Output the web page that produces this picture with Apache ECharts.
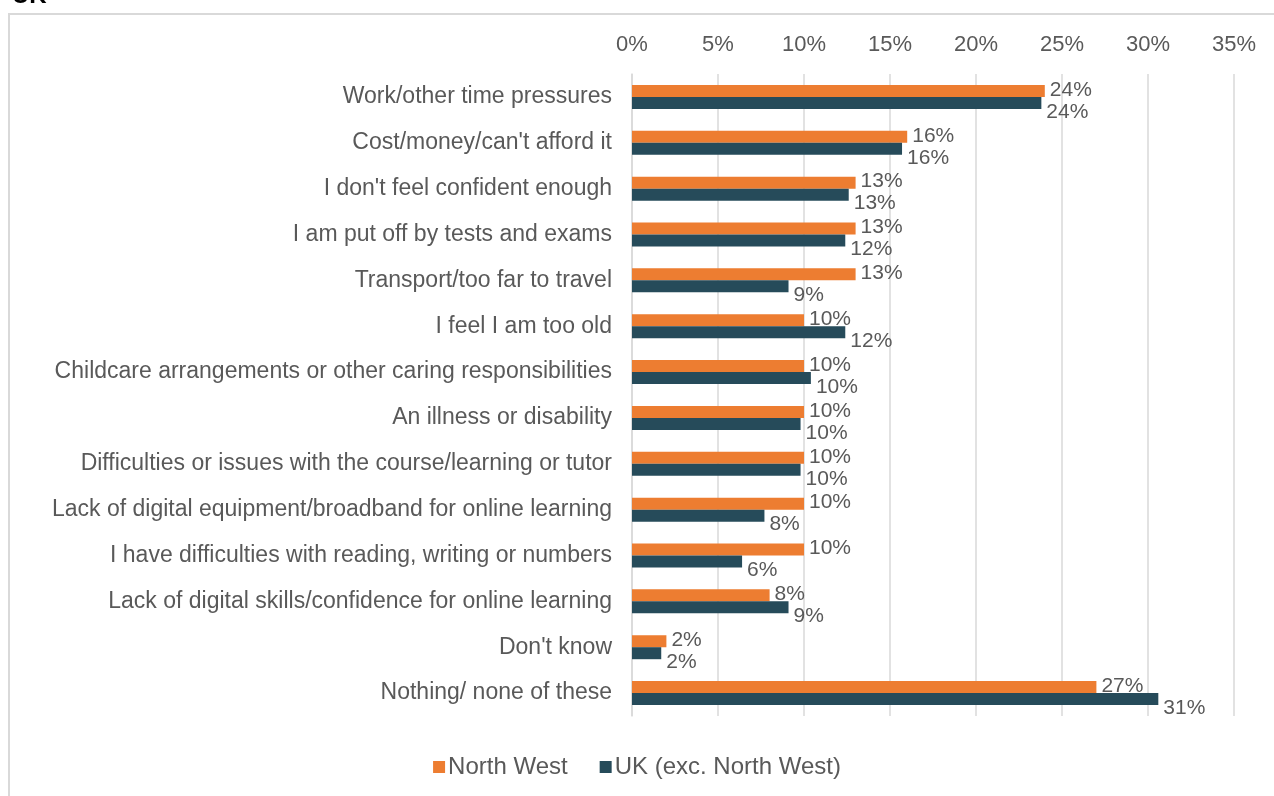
<!DOCTYPE html>
<html>
<head>
<meta charset="utf-8">
<script src="https://cdn.jsdelivr.net/npm/echarts@6/dist/echarts.min.js"></script>
<style>html,body{margin:0;padding:0;background:#fff;}#c{width:1274px;height:796px;}</style>
</head>
<body>
<div id="c"></div>
<script>
var categories = [
  "Work/other time pressures",
  "Cost/money/can't afford it",
  "I don't feel confident enough",
  "I am put off by tests and exams",
  "Transport/too far to travel",
  "I feel I am too old",
  "Childcare arrangements or other caring responsibilities",
  "An illness or disability",
  "Difficulties or issues with the course/learning or tutor",
  "Lack of digital equipment/broadband for online learning",
  "I have difficulties with reading, writing or numbers",
  "Lack of digital skills/confidence for online learning",
  "Don't know",
  "Nothing/ none of these"
];
var northWest = [24.0, 16.0, 13.0, 13.0, 13.0, 10.0, 10.0, 10.0, 10.0, 10.0, 10.0, 8.0, 2.0, 27.0];
var ukExcNW   = [23.8, 15.7, 12.6, 12.4, 9.1, 12.4, 10.4, 9.8, 9.8, 7.7, 6.4, 9.1, 1.7, 30.6];
var northWestLabels = ["24%","16%","13%","13%","13%","10%","10%","10%","10%","10%","10%","8%","2%","27%"];
var ukExcNWLabels   = ["24%","16%","13%","12%","9%","12%","10%","10%","10%","8%","6%","9%","2%","31%"];
var seriesNames = ["North West", "UK (exc. North West)"];
var tickValues = [0, 5, 10, 15, 20, 25, 30, 35];

var chart = echarts.init(document.getElementById('c'), null, {renderer: 'canvas'});
var font = 'Liberation Sans, Arial, sans-serif';
var txt = '#595959';
chart.setOption({
  animation: false,
  textStyle: {fontFamily: font},
  graphic: [
    {type: 'rect', shape: {x: 9, y: 14, width: 1400, height: 900},
     style: {fill: 'none', stroke: '#d9d9d9', lineWidth: 2}, silent: true},
    {type: 'text', style: {x: 12, y: 8, text: 'UK', font: 'bold 24px ' + font, fill: '#000', verticalAlign: 'bottom'}}
  ],
  legend: {
    bottom: 12, left: 'center',
    itemWidth: 12, itemHeight: 12, itemGap: 32,
    icon: 'rect',
    textStyle: {fontSize: 24, color: txt, fontFamily: font, padding: [0, 0, 0, -2]},
    data: seriesNames
  },
  grid: {left: 632, right: 40, top: 74, bottom: 80, containLabel: false},
  xAxis: {
    type: 'value', position: 'top', min: 0, max: 35, interval: 5,
    axisLine: {show: false}, axisTick: {show: false},
    axisLabel: {fontSize: 22, color: txt, margin: 18, fontFamily: font,
      formatter: function (v) { return tickValues.indexOf(v) >= 0 ? v + '%' : ''; }},
    splitLine: {show: true, lineStyle: {color: '#d9d9d9', width: 1.5}}
  },
  yAxis: {
    type: 'category', inverse: true, data: categories,
    axisLine: {show: true, lineStyle: {color: '#d9d9d9', width: 1.5}},
    axisTick: {show: false},
    axisLabel: {fontSize: 23, color: txt, margin: 20, fontFamily: font, interval: 0}
  },
  series: [
    {
      name: seriesNames[0], type: 'bar', data: northWest, barWidth: 12, barGap: '0%',
      itemStyle: {color: '#ED7D31'},
      label: {show: true, position: 'right', distance: 5, offset: [0, -1], fontSize: 21, color: txt, fontFamily: font,
        formatter: function (p) { return northWestLabels[p.dataIndex]; }}
    },
    {
      name: seriesNames[1], type: 'bar', data: ukExcNW, barWidth: 12, barGap: '0%',
      itemStyle: {color: '#264B5A'},
      label: {show: true, position: 'right', distance: 5, offset: [0, 9], fontSize: 21, color: txt, fontFamily: font,
        formatter: function (p) { return ukExcNWLabels[p.dataIndex]; }}
    }
  ]
});
</script>
</body>
</html>
